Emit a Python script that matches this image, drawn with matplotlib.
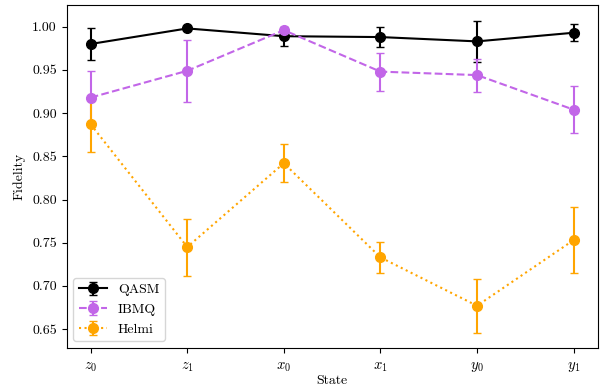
import matplotlib
matplotlib.use("Agg")
import matplotlib.pyplot as plt
import numpy as np

states = [r"$z_0$", r"$z_1$", r"$x_0$", r"$x_1$", r"$y_0$", r"$y_1$"]
qasm = [0.980, 0.998, 0.989, 0.988, 0.983, 0.993]
qasm_err = [0.019, 0.002, 0.011, 0.012, 0.024, 0.010]
ibmq = [0.918, 0.949, 0.996, 0.948, 0.944, 0.904]
ibmq_err = [0.031, 0.036, 0.003, 0.022, 0.019, 0.027]
helmi = [0.887, 0.745, 0.842, 0.733, 0.677, 0.753]
helmi_err = [0.032, 0.033, 0.022, 0.018, 0.031, 0.038]

plt.rcParams['font.family'] = 'serif'
plt.rcParams['font.serif'] = ['cmr10']
plt.rcParams['mathtext.fontset'] = 'cm'
plt.rcParams['axes.formatter.use_mathtext'] = True

fig, ax = plt.subplots(figsize=(6.05, 3.89), dpi=100)
x = np.arange(len(states))
ax.errorbar(x, qasm, yerr=qasm_err, fmt='-o', color='black', capsize=3, markersize=7, label='QASM')
ax.errorbar(x, ibmq, yerr=ibmq_err, fmt='--o', color='#c266e8', capsize=3, markersize=7, label='IBMQ')
ax.errorbar(x, helmi, yerr=helmi_err, fmt=':o', color='orange', capsize=3, markersize=7, label='Helmi')
ax.set_xticks(x)
ax.set_xticklabels(states, fontsize=10.5)
ax.tick_params(axis='x', pad=5)
ax.set_yticks(np.arange(0.65, 1.001, 0.05))
ax.yaxis.set_major_formatter(matplotlib.ticker.FormatStrFormatter('%.2f'))
ax.set_xlabel('State', labelpad=1)
ax.set_ylabel('Fidelity', labelpad=5)
ax.legend(loc='lower left')
fig.subplots_adjust(left=0.11, right=0.988, top=0.987, bottom=0.105)
fig.savefig('out.png', dpi=100)
